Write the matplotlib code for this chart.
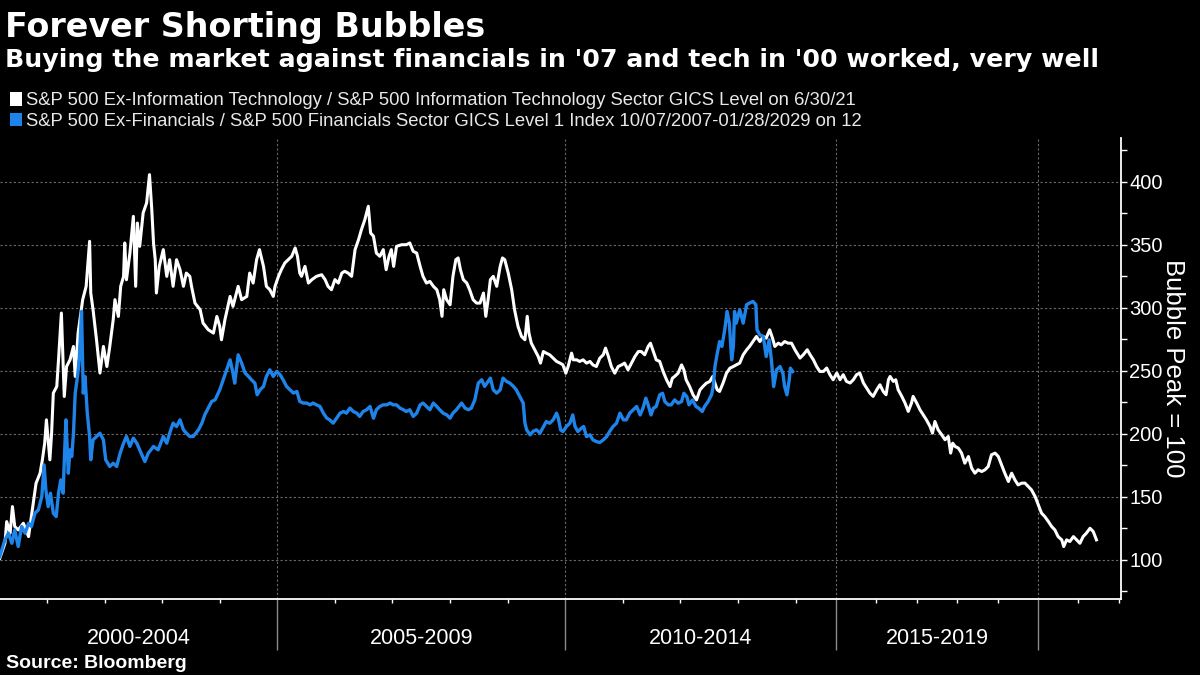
import numpy as np
import matplotlib
matplotlib.use("Agg")
import matplotlib.pyplot as plt
import matplotlib.transforms as mtransforms
from matplotlib.patches import Patch

plt.rcParams['font.family'] = ['Liberation Sans', 'DejaVu Sans']

# ratio series, bubble peak = 100 (decimal years)
tech_years = [
    2000.18, 2000.27, 2000.30, 2000.36, 2000.40, 2000.44, 2000.50, 2000.59, 2000.68, 2000.76,
    2000.81, 2000.88, 2000.92, 2000.96, 2000.99, 2001.05, 2001.08, 2001.11, 2001.17, 2001.20,
    2001.25, 2001.30, 2001.34, 2001.40, 2001.46, 2001.49, 2001.54, 2001.62, 2001.68, 2001.74,
    2001.76, 2001.80, 2001.86, 2001.92, 2001.98, 2002.04, 2002.09, 2002.15, 2002.18, 2002.24,
    2002.28, 2002.33, 2002.35, 2002.38, 2002.44, 2002.50, 2002.54, 2002.57, 2002.61, 2002.67,
    2002.73, 2002.78, 2002.82, 2002.85, 2002.88, 2002.90, 2002.95, 2003.02, 2003.08, 2003.13,
    2003.19, 2003.25, 2003.31, 2003.37, 2003.42, 2003.48, 2003.51, 2003.57, 2003.66, 2003.71,
    2003.80, 2003.89, 2003.95, 2004.00, 2004.03, 2004.09, 2004.18, 2004.23, 2004.32, 2004.38,
    2004.47, 2004.52, 2004.58, 2004.64, 2004.69, 2004.76, 2004.81,
    2004.87, 2004.93, 2004.96, 2005.02, 2005.07, 2005.13, 2005.19, 2005.25, 2005.31, 2005.35,
    2005.39, 2005.42, 2005.48, 2005.54, 2005.60, 2005.68, 2005.77, 2005.83, 2005.88, 2005.94,
    2006.00, 2006.06, 2006.12, 2006.17, 2006.23, 2006.29, 2006.35, 2006.41, 2006.46, 2006.52,
    2006.58, 2006.62, 2006.67, 2006.72, 2006.78, 2006.84, 2006.89, 2006.94, 2006.98, 2007.02,
    2007.07, 2007.16, 2007.24, 2007.30, 2007.36, 2007.42, 2007.48, 2007.53, 2007.59, 2007.65,
    2007.71, 2007.77, 2007.82, 2007.86, 2007.89, 2007.94, 2008.00, 2008.05, 2008.10, 2008.14,
    2008.18, 2008.23, 2008.29, 2008.34, 2008.40, 2008.46, 2008.52, 2008.58, 2008.62, 2008.66,
    2008.70, 2008.75, 2008.81, 2008.87, 2008.91, 2008.95, 2009.01, 2009.07, 2009.12, 2009.18,
    2009.24, 2009.30, 2009.34, 2009.37, 2009.41, 2009.47, 2009.53, 2009.57,
    2009.62, 2009.67, 2009.73, 2009.79, 2009.85, 2009.91, 2009.96, 2010.01, 2010.05, 2010.11,
    2010.14, 2010.20, 2010.25, 2010.31, 2010.37, 2010.43, 2010.48, 2010.54, 2010.60, 2010.66,
    2010.70, 2010.75, 2010.80, 2010.86, 2010.92, 2010.98, 2011.03, 2011.09, 2011.15, 2011.21,
    2011.27, 2011.32, 2011.38, 2011.44, 2011.48, 2011.53, 2011.58, 2011.64, 2011.70, 2011.76,
    2011.82, 2011.86, 2011.90, 2011.96, 2012.02, 2012.06, 2012.10, 2012.16, 2012.22, 2012.28,
    2012.34, 2012.39, 2012.45, 2012.51, 2012.56, 2012.60, 2012.64, 2012.68, 2012.74, 2012.80,
    2012.86, 2012.92, 2012.97, 2013.03, 2013.09, 2013.15, 2013.20, 2013.26, 2013.32, 2013.38,
    2013.44, 2013.49, 2013.55, 2013.60, 2013.64, 2013.70, 2013.75, 2013.81, 2013.87, 2013.93,
    2013.99,
    2014.11, 2014.19, 2014.29, 2014.36, 2014.44, 2014.52, 2014.60, 2014.69, 2014.77, 2014.85,
    2014.93, 2015.02, 2015.10, 2015.18, 2015.26, 2015.35, 2015.43, 2015.51, 2015.59, 2015.68,
    2015.76, 2015.84, 2015.92, 2016.01, 2016.09, 2016.17, 2016.24, 2016.30, 2016.34, 2016.42,
    2016.48, 2016.54, 2016.63, 2016.71, 2016.79, 2016.87, 2016.91, 2017.00, 2017.08, 2017.16,
    2017.24, 2017.33, 2017.39, 2017.45, 2017.53, 2017.62, 2017.70, 2017.78, 2017.84, 2017.89,
    2017.95, 2018.03, 2018.11, 2018.19, 2018.28, 2018.36, 2018.44, 2018.52, 2018.61, 2018.69,
    2018.77, 2018.85, 2018.94, 2019.02, 2019.10, 2019.18, 2019.27, 2019.35, 2019.43, 2019.51,
    2019.60, 2019.68, 2019.76, 2019.84, 2019.93, 2020.01, 2020.09, 2020.17, 2020.26, 2020.34,
    2020.42, 2020.50, 2020.59, 2020.64, 2020.71, 2020.79, 2020.88, 2020.96, 2021.04, 2021.12,
    2021.20, 2021.29, 2021.37, 2021.45,
]
tech_vals = [
    101.3, 113.2, 130.4, 121.2, 142.3, 126.5, 123.8, 129.1, 118.5, 144.9,
    160.8, 168.8, 179.4, 192.6, 211.1, 179.4, 200.5, 232.3, 237.6, 258.7,
    295.8, 229.6, 253.4, 258.7, 269.3, 245.5, 279.9, 306.4, 317.0, 352.7,
    311.7, 298.4, 274.6, 248.2, 269.3, 253.4, 269.3, 290.5, 306.4, 293.1,
    317.0, 324.9, 351.4, 322.2, 343.4, 372.5, 317.0, 367.2, 348.7, 375.2,
    383.1, 405.6, 377.8, 351.4, 338.1, 311.7, 332.8, 346.1, 324.9, 338.1,
    317.0, 338.1, 330.2, 317.0, 327.5, 324.9, 317.0, 303.7, 298.4, 287.9,
    282.6, 279.9, 293.1, 285.2, 274.6, 290.5, 309.0, 301.1, 317.0, 306.4,
    309.0, 327.5, 319.6, 338.1, 346.1, 332.8, 317.0,
    314.3, 309.0, 317.0, 324.9, 330.2, 335.5, 338.1, 340.8, 347.4, 340.8,
    327.5, 324.9, 332.8, 319.6, 322.3, 324.9, 326.2, 322.3, 317.0, 314.3,
    322.3, 319.6, 327.5, 328.9, 327.5, 324.9, 346.1, 354.0, 361.9, 369.9,
    380.5, 359.3, 356.7, 343.4, 340.8, 346.1, 330.2, 340.8, 346.1, 332.8,
    348.7, 350.0, 350.0, 351.4, 344.7, 343.4, 332.8, 324.9, 319.6, 320.9,
    317.0, 314.3, 306.4, 293.2, 314.3, 306.4, 302.4, 324.9, 338.1, 339.5,
    330.2, 322.3, 319.6, 314.3, 306.4, 303.7, 303.7, 311.7, 293.2, 306.4,
    322.3, 324.9, 317.0, 332.8, 339.5, 338.1, 327.5, 314.3, 298.4, 285.2,
    277.3, 274.6, 293.2, 279.9, 272.0, 266.7, 261.4, 256.1,
    265.3, 264.0, 262.7, 260.0, 257.4, 256.1, 254.7, 248.1, 253.4, 264.0,
    258.7, 258.7, 257.4, 258.7, 256.1, 257.4, 254.7, 253.4, 260.0, 262.7,
    268.0, 261.3, 253.4, 248.1, 253.4, 254.7, 256.1, 250.8, 256.1, 261.3,
    265.3, 265.3, 262.7, 269.3, 271.9, 265.3, 258.7, 257.4, 249.4, 242.8,
    237.5, 244.1, 245.5, 248.1, 254.7, 250.8, 242.8, 237.5, 230.9, 226.9,
    234.9, 237.5, 240.2, 241.5, 245.5, 240.2, 234.9, 233.6, 240.2, 248.1,
    252.1, 253.4, 254.7, 256.1, 262.7, 266.6, 269.3, 273.2, 277.2, 273.2,
    277.2, 275.9, 282.5, 275.9, 269.3, 271.9, 270.6, 273.2, 271.9, 271.9,
    266.6,
    260.1, 262.7, 266.7, 262.7, 258.8, 253.5, 249.5, 249.5, 252.2, 246.9,
    242.9, 248.2, 242.9, 246.9, 241.6, 240.3, 242.9, 246.9, 248.2, 240.3,
    236.3, 232.3, 229.7, 235.0, 238.9, 233.6, 231.0, 242.9, 245.5, 241.6,
    242.9, 235.0, 229.7, 224.4, 217.8, 224.4, 229.7, 224.4, 219.1, 215.1,
    211.1, 205.8, 200.6, 209.8, 203.2, 199.2, 195.3, 197.9, 184.7, 192.6,
    190.0, 188.7, 184.7, 176.7, 182.0, 172.8, 168.8, 171.5, 170.1, 171.5,
    174.1, 183.4, 184.7, 182.0, 175.4, 168.8, 162.2, 168.8, 163.5, 159.5,
    160.9, 160.9, 158.2, 155.6, 150.3, 143.7, 137.1, 134.4, 130.4, 126.5,
    123.8, 118.5, 115.9, 110.6, 115.9, 114.6, 118.5, 115.9, 113.2, 118.5,
    121.2, 125.1, 122.5, 115.9,
]

fin_years = [
    2000.18, 2000.27, 2000.33, 2000.39, 2000.44, 2000.50, 2000.56, 2000.62, 2000.68, 2000.73,
    2000.79, 2000.85, 2000.91, 2000.95, 2000.98, 2001.02, 2001.06, 2001.11, 2001.16, 2001.20,
    2001.24, 2001.28, 2001.31, 2001.33, 2001.37, 2001.40, 2001.43, 2001.46, 2001.49, 2001.53,
    2001.56, 2001.60, 2001.63, 2001.66, 2001.70, 2001.74, 2001.76, 2001.80, 2001.86, 2001.92,
    2001.98, 2002.02, 2002.09, 2002.15, 2002.21, 2002.27, 2002.33, 2002.38, 2002.44, 2002.50,
    2002.56, 2002.61, 2002.70, 2002.76, 2002.85, 2002.93, 2003.02, 2003.08, 2003.13, 2003.19,
    2003.25, 2003.31, 2003.37, 2003.42, 2003.48, 2003.54, 2003.63, 2003.69, 2003.74, 2003.80,
    2003.86, 2003.92, 2004.00, 2004.06, 2004.12, 2004.18, 2004.23, 2004.26, 2004.32, 2004.38,
    2004.44, 2004.50, 2004.55, 2004.61, 2004.65, 2004.70, 2004.76, 2004.81,
    2004.87, 2004.93, 2004.99, 2005.05, 2005.10, 2005.16, 2005.22, 2005.28, 2005.34, 2005.39,
    2005.45, 2005.51, 2005.57, 2005.62, 2005.68, 2005.74, 2005.80, 2005.86, 2005.91, 2005.97,
    2006.03, 2006.09, 2006.15, 2006.20, 2006.26, 2006.32, 2006.38, 2006.43, 2006.49, 2006.55,
    2006.61, 2006.67, 2006.72, 2006.78, 2006.84, 2006.90, 2006.96, 2007.01, 2007.07, 2007.13,
    2007.19, 2007.24, 2007.30, 2007.36, 2007.42, 2007.48, 2007.53, 2007.59, 2007.65, 2007.71,
    2007.77, 2007.82, 2007.88, 2007.94, 2008.00, 2008.05, 2008.11, 2008.20, 2008.26, 2008.32,
    2008.37, 2008.43, 2008.49, 2008.55, 2008.60, 2008.66, 2008.70, 2008.75, 2008.81, 2008.87,
    2008.92, 2008.98, 2009.04, 2009.10, 2009.15, 2009.21, 2009.27, 2009.30, 2009.33, 2009.39,
    2009.44, 2009.50, 2009.56,
    2009.67, 2009.73, 2009.79, 2009.85, 2009.88, 2009.92, 2009.96, 2010.02, 2010.08, 2010.13,
    2010.17, 2010.22, 2010.28, 2010.32, 2010.37, 2010.43, 2010.48, 2010.54, 2010.60, 2010.66,
    2010.72, 2010.77, 2010.83, 2010.89, 2010.95, 2011.01, 2011.06, 2011.12, 2011.18, 2011.24,
    2011.30, 2011.35, 2011.40, 2011.44, 2011.49, 2011.53, 2011.58, 2011.64, 2011.69, 2011.73,
    2011.79, 2011.84, 2011.90, 2011.96, 2012.02, 2012.06, 2012.11, 2012.15, 2012.21, 2012.27,
    2012.32, 2012.38, 2012.42, 2012.48, 2012.54, 2012.57, 2012.60, 2012.63, 2012.68, 2012.72,
    2012.77, 2012.81, 2012.85, 2012.89, 2012.92, 2012.94, 2012.97, 2013.03, 2013.09, 2013.15,
    2013.20, 2013.26, 2013.31, 2013.33, 2013.38, 2013.44, 2013.49, 2013.54, 2013.58, 2013.62,
    2013.67, 2013.73, 2013.78, 2013.81, 2013.85, 2013.89, 2013.91, 2013.95,
]
fin_vals = [
    102.6, 115.9, 121.2, 113.2, 123.8, 110.6, 126.5, 121.2, 129.1, 126.5,
    137.0, 139.7, 150.3, 175.4, 155.6, 142.3, 152.9, 137.0, 134.4, 152.9,
    163.5, 152.9, 190.0, 211.1, 168.8, 187.3, 182.0, 200.5, 232.3, 245.5,
    258.7, 297.1, 232.3, 245.5, 216.4, 197.9, 179.4, 195.2, 197.9, 200.5,
    195.2, 179.4, 174.1, 176.7, 174.1, 184.7, 192.6, 197.9, 190.0, 196.6,
    192.6, 187.3, 178.0, 184.7, 190.0, 187.3, 197.9, 192.6, 200.5, 208.5,
    205.8, 211.1, 203.2, 200.5, 197.9, 197.9, 203.2, 208.5, 215.1, 220.4,
    225.7, 227.0, 234.9, 242.9, 250.8, 258.7, 248.2, 240.2, 262.7, 256.1,
    248.2, 245.5, 242.9, 240.2, 231.0, 234.9, 237.6, 245.5,
    250.8, 245.5, 249.5, 246.8, 242.9, 237.6, 234.9, 232.3, 233.6, 225.7,
    224.4, 224.4, 223.0, 224.4, 223.0, 221.7, 216.4, 212.4, 211.1, 208.5,
    212.4, 216.4, 217.7, 216.4, 220.4, 217.7, 216.4, 213.8, 217.7, 219.1,
    221.7, 212.4, 219.1, 221.7, 223.0, 223.0, 224.4, 223.0, 223.0, 220.4,
    219.1, 217.7, 219.1, 213.8, 216.4, 223.0, 224.4, 221.7, 219.1, 224.4,
    221.7, 219.1, 216.4, 215.1, 212.4, 216.4, 219.1, 224.4, 220.4, 219.1,
    220.4, 227.0, 240.2, 242.9, 237.6, 241.6, 244.2, 234.9, 232.3, 234.9,
    244.2, 241.6, 240.2, 237.6, 234.9, 229.6, 224.4, 208.5, 203.2, 199.2,
    201.9, 203.2, 200.5,
    209.7, 208.4, 211.1, 216.4, 212.4, 203.1, 201.8, 205.8, 208.4, 215.0,
    205.8, 201.8, 204.5, 205.8, 197.8, 199.2, 195.2, 193.9, 193.1, 195.2,
    197.8, 201.8, 205.8, 208.4, 216.4, 211.1, 211.1, 216.4, 219.0, 221.7,
    215.0, 220.3, 228.3, 223.0, 215.0, 220.3, 221.7, 230.9, 232.2, 225.6,
    223.0, 223.0, 226.9, 224.3, 225.6, 232.2, 229.6, 223.0, 226.9, 221.7,
    220.3, 217.7, 221.7, 225.6, 230.9, 237.5, 253.4, 261.3, 273.2, 269.3,
    282.5, 297.1, 287.8, 258.7, 269.3, 297.1, 287.8, 298.4, 287.8, 302.4,
    303.7, 305.0, 302.4, 282.5, 278.5, 277.2, 261.3, 274.6, 258.7, 237.5,
    250.8, 253.4, 248.1, 237.5, 230.9, 242.8, 252.1, 249.4,
]

tech_label = ("S&P 500 Ex-Information Technology / S&P 500 Information Technology "
              "Sector GICS Level on 6/30/21")
fin_label = ("S&P 500 Ex-Financials / S&P 500 Financials Sector GICS Level 1 Index "
             "10/07/2007-01/28/2029 on 12")
period_edges = [2000, 2005, 2010, 2015, 2020]
period_labels = ['2000-2004', '2005-2009', '2010-2014', '2015-2019']
year_ticks = [2001, 2002, 2003, 2004, 2006, 2007, 2008, 2009,
              2011, 2012, 2013, 2014, 2016, 2017, 2018, 2019, 2021, 2022]

BLUE = '#1f84ea'


# bloomberg squeezes the later years on this chart
def fwd(x):
    x = np.asarray(x, dtype=float)
    return np.where(x < 2014, (x - 2014) * 57.6, (x - 2014) * 40.4)


def inv(p):
    p = np.asarray(p, dtype=float)
    return np.where(p < 0, p / 57.6 + 2014, p / 40.4 + 2014)


fig = plt.figure(figsize=(12, 6.75), dpi=100, facecolor='black')
ax = fig.add_axes([0.0, 1 - 599 / 675, 1120.7 / 1200, (599 - 138.3) / 675])
ax.set_facecolor('black')
ax.set_xscale('function', functions=(fwd, inv))

ax.plot(tech_years, tech_vals, color='white', lw=2.2, zorder=3)
ax.plot(fin_years, fin_vals, color=BLUE, lw=2.4, zorder=4)

xmin, xmax = 2000.184, 2022.05
ax.set_xlim(xmin, xmax)
ax.set_ylim(69, 434.4)

# y axis on the right
ax.yaxis.tick_right()
ax.set_yticks([100, 150, 200, 250, 300, 350, 400])
ax.set_yticks(np.arange(75, 430, 50), minor=True)
ax.tick_params(axis='y', which='both', colors='white', length=4, width=1,
               labelsize=14.5, pad=2)
ax.set_ylabel('Bubble Peak = 100', color='white', fontsize=18.5, rotation=270, va='center')
ax.yaxis.set_label_position('right')
ax.yaxis.set_label_coords(1185 / 1120.7, 0.5)

# x axis: gray separators between periods, small year ticks
ax.set_xticks(period_edges[1:])
ax.set_xticklabels([])
ax.set_xticks(year_ticks, minor=True)
ax.tick_params(axis='x', which='major', colors='#8a8a8a', length=37, width=1)
ax.tick_params(axis='x', which='minor', colors='white', length=3, width=1)

trans = mtransforms.blended_transform_factory(ax.transData, ax.transAxes)
for i, lab in enumerate(period_labels):
    a = max(period_edges[i], xmin)
    b = period_edges[i + 1]
    mid = float(inv((fwd(a) + fwd(b)) / 2))
    ax.text(mid, -39 / 460.7, lab, transform=trans, ha='center', va='center',
            color='white', fontsize=15.5)

ax.grid(True, which='major', color='#6a6a6a', linestyle=(0, (2, 2)), linewidth=0.8)
ax.set_axisbelow(True)

for side in ['top', 'left']:
    ax.spines[side].set_visible(False)
ax.spines['bottom'].set_color('white')
ax.spines['bottom'].set_linewidth(1.3)
ax.spines['right'].set_color('white')
ax.spines['right'].set_linewidth(1.3)

fig.text(5 / 1200, 1 - 37 / 675, 'Forever Shorting Bubbles', color='white',
         fontsize=24, fontweight='bold', va='baseline', family='DejaVu Sans')
fig.text(5 / 1200, 1 - 67 / 675,
         "Buying the market against financials in '07 and tech in '00 worked, very well",
         color='white', fontsize=18.2, fontweight='bold', va='baseline', family='DejaVu Sans')

handles = [Patch(facecolor='white', edgecolor='none'), Patch(facecolor=BLUE, edgecolor='none')]
fig.legend(handles, [tech_label, fin_label], loc='upper left',
           bbox_to_anchor=(10 / 1200, 1 - 92 / 675), frameon=False, fontsize=13.3,
           handlelength=0.65, handleheight=0.75, handletextpad=0.2,
           labelspacing=0.2, borderpad=0, borderaxespad=0, labelcolor='#e8e8e8')

fig.text(6 / 1200, 1 - 664 / 675, 'Source: Bloomberg', color='white',
         fontsize=14, fontweight='bold', va='center')

fig.savefig('out.png', dpi=100, facecolor='black')
